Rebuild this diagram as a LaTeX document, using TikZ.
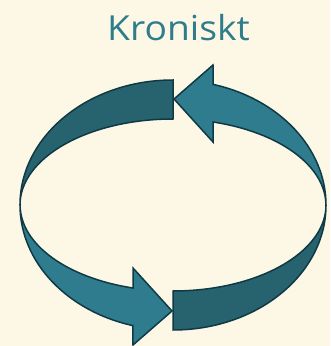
\documentclass[tikz,border=0pt]{standalone}
\usepackage{fontspec}
\setmainfont{Open Sans}
\newfontfamily\titlefont[FakeStretch=1.08]{Open Sans}
\definecolor{bgc}{HTML}{FDF8E6}
\definecolor{darkband}{HTML}{27636E}
\definecolor{lightband}{HTML}{2E7C8D}
\definecolor{edgec}{HTML}{0F3A45}
\definecolor{titlec}{HTML}{2F7C8C}
\tikzset{
  band/.style={draw=edgec, line width=1.5pt, line join=miter},
  darkpart/.style={band, fill=darkband},
  lightpart/.style={band, fill=lightband},
  titletext/.style={text=titlec, font=\titlefont\fontsize{34.5}{40}\selectfont, inner sep=0pt}
}
\begin{document}
\begin{tikzpicture}[x=1pt,y=1pt]
\fill[bgc] (0,0) rectangle (330,346);
\useasboundingbox (0,0) rectangle (330,346);
\coordinate (c) at (173,141);
\node[titletext, anchor=base] (title) at (178.5,305) {Kroniskt};
% left arrow: upper dark half
\path[darkpart] (173,266) arc[start angle=90,end angle=180,x radius=153,y radius=125]
  -- (20,141) arc[start angle=180,end angle=90,x radius=153,y radius=86] -- cycle;
% left arrow: lower light half with head
\path[lightpart] (20,141) arc[start angle=180,end angle=254.8,x radius=153,y radius=125]
  -- (133,1) -- (172,35) -- (133,78) -- (133,58)
  arc[start angle=254.8,end angle=180,x radius=153,y radius=86] -- cycle;
% right arrow: lower dark half
\path[darkpart] (173,16) arc[start angle=270,end angle=360,x radius=153,y radius=125]
  -- (326,141) arc[start angle=360,end angle=270,x radius=153,y radius=86] -- cycle;
% right arrow: upper light half with head
\path[lightpart] (326,141) arc[start angle=0,end angle=74.8,x radius=153,y radius=125]
  -- (213,281) -- (174,247) -- (213,204) -- (213,224)
  arc[start angle=74.8,end angle=0,x radius=153,y radius=86] -- cycle;
\end{tikzpicture}
\end{document}
